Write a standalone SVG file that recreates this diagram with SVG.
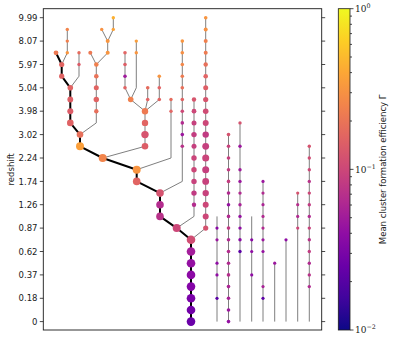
<svg xmlns="http://www.w3.org/2000/svg" width="399" height="342" viewBox="0 0 399 342">
<style>
.frame{fill:none;stroke:#1a1a1a;stroke-width:0.9}
.tick{stroke:#1a1a1a;stroke-width:0.8}
.lbl{font-family:"DejaVu Sans","Liberation Sans",sans-serif;font-size:8.5px;fill:#1a1a1a}
.cbl{font-family:"DejaVu Serif","Liberation Serif",serif;font-size:9px;fill:#1a1a1a}
.sup{font-size:6.3px}
.link{fill:none;stroke:#7f7f7f;stroke-width:1}
.main{fill:none;stroke:#000;stroke-width:2;stroke-linejoin:round}
</style>
<defs>
<linearGradient id="plasma" x1="0" y1="1" x2="0" y2="0">
<stop offset="0" stop-color="#0d0887"/>
<stop offset="0.1" stop-color="#41049d"/>
<stop offset="0.2" stop-color="#6a00a8"/>
<stop offset="0.3" stop-color="#8f0da4"/>
<stop offset="0.4" stop-color="#b12a90"/>
<stop offset="0.5" stop-color="#cc4778"/>
<stop offset="0.6" stop-color="#e16462"/>
<stop offset="0.7" stop-color="#f2844b"/>
<stop offset="0.8" stop-color="#fca636"/>
<stop offset="0.9" stop-color="#fcce25"/>
<stop offset="1" stop-color="#f0f921"/>
</linearGradient>
</defs>
<rect width="399" height="342" fill="#fff"/>

<g id="axes">
<rect class="frame" x="43.3" y="8.7" width="278.4" height="321.3"/>
<g class="tick">
<path d="M39.8,17.7H43.3M39.8,41.1H43.3M39.8,64.5H43.3M39.8,87.8H43.3M39.8,111.2H43.3M39.8,134.6H43.3M39.8,158H43.3M39.8,181.4H43.3M39.8,204.7H43.3M39.8,228.1H43.3M39.8,251.5H43.3M39.8,274.9H43.3M39.8,298.3H43.3M39.8,321.6H43.3"/>
<path d="M321.7,17.7H325.2M321.7,41.1H325.2M321.7,64.5H325.2M321.7,87.8H325.2M321.7,111.2H325.2M321.7,134.6H325.2M321.7,158H325.2M321.7,181.4H325.2M321.7,204.7H325.2M321.7,228.1H325.2M321.7,251.5H325.2M321.7,274.9H325.2M321.7,298.3H325.2M321.7,321.6H325.2"/>
</g>
<g class="lbl" text-anchor="end">
<text x="37.5" y="20.8">9.99</text>
<text x="37.5" y="44.2">8.07</text>
<text x="37.5" y="67.6">5.97</text>
<text x="37.5" y="90.9">5.04</text>
<text x="37.5" y="114.3">3.98</text>
<text x="37.5" y="137.7">3.02</text>
<text x="37.5" y="161.1">2.24</text>
<text x="37.5" y="184.5">1.74</text>
<text x="37.5" y="207.8">1.26</text>
<text x="37.5" y="231.2">0.87</text>
<text x="37.5" y="254.6">0.62</text>
<text x="37.5" y="278">0.37</text>
<text x="37.5" y="301.4">0.18</text>
<text x="37.5" y="324.7">0</text>
</g>
<text class="lbl" text-anchor="middle" transform="translate(13.5,169.3) rotate(-90)">redshift</text>
</g>

<g id="connectors">
<path class="link" d="M67.3,29.4V52.8L61.7,64.5"/>
<path class="link" d="M79,52.8V76.2L70.3,87.8"/>
<path class="link" d="M90.3,52.8L96.3,64.5"/>
<path class="link" d="M101.7,29.4L107.7,41.1"/>
<path class="link" d="M113.3,17.7V29.4L107.7,41.1"/>
<path class="link" d="M107.7,41.1V52.8L96.3,64.5"/>
<path class="link" d="M96.3,64.5V122.9L80,134.6"/>
<path class="link" d="M125,52.8V87.8L130.7,99.5"/>
<path class="link" d="M136.3,41.1V87.8L130.7,99.5"/>
<path class="link" d="M130.7,99.5L145,111.2"/>
<path class="link" d="M147.7,87.8V99.5L145,111.2"/>
<path class="link" d="M159.3,76.2V99.5L145,111.2"/>
<path class="link" d="M145,111.2V146.3L102.7,158"/>
<path class="link" d="M171,99.5V158L136.7,169.7"/>
<path class="link" d="M182.3,41.1V181.4L160,193.1"/>
<path class="link" d="M194,99.5V216.4L176.7,228.1"/>
<path class="link" d="M205.7,17.7V228.1L191,239.8"/>
<path class="link" d="M217,216.4V321.6"/>
<path class="link" d="M228.5,134.6V321.6"/>
<path class="link" d="M240,122.9V321.6"/>
<path class="link" d="M251.7,216.4V321.6"/>
<path class="link" d="M263,181.4V321.6"/>
<path class="link" d="M274.7,263.2V321.6"/>
<path class="link" d="M286,239.8V321.6"/>
<path class="link" d="M297.7,193.1V321.6"/>
<path class="link" d="M309.3,146.3V321.6"/>
<path class="main" d="M56,52.8L61.7,64.5V76.2L70.3,87.8V122.9L80,134.6V146.3L102.7,158L136.7,169.7V181.4L160,193.1V216.4L176.7,228.1L191,239.8V321.6"/>
</g>

<g id="nodes">
<g id="m01"><circle cx="56" cy="52.8" r="2.4" fill="#ed7953"/></g>
<g id="m02"><circle cx="61.7" cy="64.5" r="2.6" fill="#e16462"/></g>
<g id="m03"><circle cx="61.7" cy="76.2" r="2.6" fill="#df6263"/></g>
<g id="m04"><circle cx="70.3" cy="87.8" r="2.8" fill="#e06464"/></g>
<g id="m05"><circle cx="70.3" cy="99.5" r="2.9" fill="#de5f65"/></g>
<g id="m06"><circle cx="70.3" cy="111.2" r="3" fill="#dc5c67"/></g>
<g id="m07"><circle cx="70.3" cy="122.9" r="3.3" fill="#df6264"/></g>
<g id="m08"><circle cx="80" cy="134.6" r="3.3" fill="#e6705b"/></g>
<g id="m09"><circle cx="80" cy="146.3" r="4" fill="#fb9f3a"/></g>
<g id="m10"><circle cx="102.7" cy="158" r="4" fill="#f2844b"/></g>
<g id="m11"><circle cx="136.7" cy="169.7" r="4" fill="#f89441"/></g>
<g id="m12"><circle cx="136.7" cy="181.4" r="3.8" fill="#e16462"/></g>
<g id="m13"><circle cx="160" cy="193.1" r="3.8" fill="#d5536f"/></g>
<g id="m14"><circle cx="160" cy="204.7" r="3.8" fill="#b32c8e"/></g>
<g id="m15"><circle cx="160" cy="216.4" r="3.8" fill="#b83289"/></g>
<g id="m16"><circle cx="176.7" cy="228.1" r="4" fill="#cc4778"/></g>
<g id="m17"><circle cx="191" cy="239.8" r="4.3" fill="#d04d73"/></g>
<g id="m18"><circle cx="191" cy="251.5" r="4.3" fill="#a41e9b"/></g>
<g id="m19"><circle cx="191" cy="263.2" r="4.3" fill="#9410a2"/></g>
<g id="m20"><circle cx="191" cy="274.9" r="4.3" fill="#8c0aa5"/></g>
<g id="m21"><circle cx="191" cy="286.6" r="4.3" fill="#8405a7"/></g>
<g id="m22"><circle cx="191" cy="298.3" r="4.3" fill="#7a02a8"/></g>
<g id="m23"><circle cx="191" cy="310" r="4.3" fill="#7201a8"/></g>
<g id="m24"><circle cx="191" cy="321.6" r="4.3" fill="#6a00a8"/></g>

<g id="b1"><circle cx="67.3" cy="29.4" r="1.7" fill="#f2844b"/></g>
<g id="b2"><circle cx="67.3" cy="41.1" r="1.7" fill="#f07f4e"/></g>
<g id="b3"><circle cx="67.3" cy="52.8" r="1.7" fill="#f89540"/></g>
<g id="c1"><circle cx="79" cy="52.8" r="1.7" fill="#e56b5d"/></g>
<g id="c2"><circle cx="79" cy="64.5" r="1.7" fill="#db5c68"/></g>
<g id="d1"><circle cx="90.3" cy="52.8" r="2" fill="#ed7953"/></g>
<g id="e1"><circle cx="101.7" cy="29.4" r="1.7" fill="#f79143"/></g>
<g id="f1"><circle cx="113.3" cy="17.7" r="1.7" fill="#fdb030"/></g>
<g id="f2"><circle cx="113.3" cy="29.4" r="1.7" fill="#fba238"/></g>
<g id="g1"><circle cx="107.7" cy="41.1" r="2" fill="#f89540"/></g>
<g id="g2"><circle cx="107.7" cy="52.8" r="2" fill="#f89540"/></g>
<g id="h1"><circle cx="96.3" cy="64.5" r="2.3" fill="#f0804e"/></g>
<g id="h2"><circle cx="96.3" cy="76.2" r="2.3" fill="#e97359"/></g>
<g id="h3"><circle cx="96.3" cy="87.8" r="2.5" fill="#e16462"/></g>
<g id="h4"><circle cx="96.3" cy="99.5" r="2.7" fill="#e06363"/></g>
<g id="h5"><circle cx="96.3" cy="111.2" r="2.2" fill="#e76f5b"/></g>
<g id="i1"><circle cx="125" cy="52.8" r="1.8" fill="#e26766"/></g>
<g id="i2"><circle cx="125" cy="64.5" r="1.8" fill="#dd5e66"/></g>
<g id="i3"><circle cx="125" cy="76.2" r="1.8" fill="#a01a9c"/></g>
<g id="i4"><circle cx="125" cy="87.8" r="1.8" fill="#e06464"/></g>
<g id="j1"><circle cx="136.3" cy="41.1" r="1.7" fill="#f99e3c"/></g>
<g id="j2"><circle cx="136.3" cy="52.8" r="1.7" fill="#f89540"/></g>
<g id="k1"><circle cx="130.7" cy="99.5" r="2.8" fill="#f0804e"/></g>
<g id="l1"><circle cx="147.7" cy="87.8" r="1.8" fill="#e56b5d"/></g>
<g id="l2"><circle cx="147.7" cy="99.5" r="1.8" fill="#e36566"/></g>
<g id="q1"><circle cx="159.3" cy="76.2" r="1.8" fill="#f89540"/></g>
<g id="q2"><circle cx="159.3" cy="87.8" r="1.8" fill="#e36566"/></g>
<g id="q3"><circle cx="159.3" cy="99.5" r="1.8" fill="#e16462"/></g>
<g id="o1"><circle cx="145" cy="111.2" r="3.2" fill="#ee7a52"/></g>
<g id="o2"><circle cx="145" cy="122.9" r="3.2" fill="#e16462"/></g>
<g id="o3"><circle cx="145" cy="134.6" r="3.7" fill="#d6546e"/></g>
<g id="o4"><circle cx="145" cy="146.3" r="3.3" fill="#dc5d67"/></g>
<g id="p1"><circle cx="171" cy="99.5" r="1.7" fill="#e56b5d"/></g>
<g id="p2"><circle cx="171" cy="111.2" r="1.7" fill="#e26866"/></g>

<g id="L02"><circle cx="182.3" cy="41.1" r="1.8" fill="#f89540"/></g>
<g id="L03"><circle cx="182.3" cy="52.8" r="1.8" fill="#f68f44"/></g>
<g id="L04"><circle cx="182.3" cy="64.5" r="1.8" fill="#f3874a"/></g>
<g id="L05"><circle cx="182.3" cy="76.2" r="1.8" fill="#ee7b51"/></g>
<g id="L06"><circle cx="182.3" cy="87.8" r="1.8" fill="#e8705a"/></g>
<g id="L07"><circle cx="182.3" cy="99.5" r="1.8" fill="#e06363"/></g>
<g id="L08"><circle cx="182.3" cy="111.2" r="1.8" fill="#cd4977"/></g>
<g id="L09"><circle cx="182.3" cy="122.9" r="1.8" fill="#b22b8f"/></g>
<g id="L10"><circle cx="182.3" cy="134.6" r="1.8" fill="#9c179e"/></g>
<g id="L11"><circle cx="182.3" cy="146.3" r="1.8" fill="#b83289"/></g>

<g id="M07"><circle cx="194" cy="99.5" r="2.2" fill="#d6556d"/></g>
<g id="M08"><circle cx="194" cy="111.2" r="2.4" fill="#cc4778"/></g>
<g id="M09"><circle cx="194" cy="122.9" r="2.5" fill="#c6417d"/></g>
<g id="M10"><circle cx="194" cy="134.6" r="2.7" fill="#c33d80"/></g>
<g id="M11"><circle cx="194" cy="146.3" r="2.5" fill="#c5407e"/></g>
<g id="M12"><circle cx="194" cy="158" r="2.7" fill="#ca457a"/></g>
<g id="M13"><circle cx="194" cy="169.7" r="2.7" fill="#cc4778"/></g>
<g id="M14"><circle cx="194" cy="181.4" r="2.7" fill="#c7427c"/></g>
<g id="M15"><circle cx="194" cy="193.1" r="2.7" fill="#c13b82"/></g>
<g id="M16"><circle cx="194" cy="204.7" r="2.2" fill="#b32c8e"/></g>

<g id="N00"><circle cx="205.7" cy="17.7" r="1.8" fill="#f89540"/></g>
<g id="N01"><circle cx="205.7" cy="29.4" r="2" fill="#f79143"/></g>
<g id="N02"><circle cx="205.7" cy="41.1" r="2" fill="#f0804e"/></g>
<g id="N03"><circle cx="205.7" cy="52.8" r="2" fill="#ee7b51"/></g>
<g id="N04"><circle cx="205.7" cy="64.5" r="2.2" fill="#e8705a"/></g>
<g id="N05"><circle cx="205.7" cy="76.2" r="2.3" fill="#e36566"/></g>
<g id="N06"><circle cx="205.7" cy="87.8" r="2.5" fill="#de5e66"/></g>
<g id="N07"><circle cx="205.7" cy="99.5" r="2.6" fill="#d6556d"/></g>
<g id="N08"><circle cx="205.7" cy="111.2" r="2.8" fill="#cf4c74"/></g>
<g id="N09"><circle cx="205.7" cy="122.9" r="3" fill="#cc4778"/></g>
<g id="N10"><circle cx="205.7" cy="134.6" r="3.2" fill="#c13b82"/></g>
<g id="N11"><circle cx="205.7" cy="146.3" r="3.4" fill="#c5407e"/></g>
<g id="N12"><circle cx="205.7" cy="158" r="3.5" fill="#ca457a"/></g>
<g id="N13"><circle cx="205.7" cy="169.7" r="3.5" fill="#c5407e"/></g>
<g id="N14"><circle cx="205.7" cy="181.4" r="3.4" fill="#c7427c"/></g>
<g id="N15"><circle cx="205.7" cy="193.1" r="3.2" fill="#c7427c"/></g>
<g id="N16"><circle cx="205.7" cy="204.7" r="3" fill="#cc4778"/></g>
<g id="N17"><circle cx="205.7" cy="216.4" r="3" fill="#cc4778"/></g>
<g id="N18"><circle cx="205.7" cy="228.1" r="2.6" fill="#d5536f"/></g>

<g id="P18"><circle cx="217" cy="228.1" r="1.6" fill="#8a09a5"/></g>
<g id="P19"><circle cx="217" cy="239.8" r="1.6" fill="#9c179e"/></g>
<g id="P21"><circle cx="217" cy="263.2" r="1.6" fill="#8f0da4"/></g>
<g id="P22"><circle cx="217" cy="274.9" r="1.6" fill="#8f0da4"/></g>
<g id="P24"><circle cx="217" cy="298.3" r="1.6" fill="#5c01a6"/></g>

<g id="Q10"><circle cx="228.5" cy="134.6" r="1.8" fill="#d5536f"/></g>
<g id="Q11"><circle cx="228.5" cy="146.3" r="1.8" fill="#c7427c"/></g>
<g id="Q12"><circle cx="228.5" cy="158" r="1.8" fill="#c5407e"/></g>
<g id="Q13"><circle cx="228.5" cy="169.7" r="1.8" fill="#c13b82"/></g>
<g id="Q14"><circle cx="228.5" cy="181.4" r="1.8" fill="#c33d80"/></g>
<g id="Q15"><circle cx="228.5" cy="193.1" r="1.8" fill="#b12a90"/></g>
<g id="Q16"><circle cx="228.5" cy="204.7" r="1.8" fill="#9512a1"/></g>
<g id="Q17"><circle cx="228.5" cy="216.4" r="1.8" fill="#b12a90"/></g>
<g id="Q18"><circle cx="228.5" cy="228.1" r="1.8" fill="#c03a83"/></g>
<g id="Q19"><circle cx="228.5" cy="239.8" r="1.8" fill="#b12a90"/></g>
<g id="Q20"><circle cx="228.5" cy="251.5" r="1.8" fill="#b32c8e"/></g>
<g id="Q21"><circle cx="228.5" cy="263.2" r="1.8" fill="#b12a90"/></g>
<g id="Q22"><circle cx="228.5" cy="274.9" r="1.8" fill="#b52f8c"/></g>
<g id="Q23"><circle cx="228.5" cy="286.6" r="1.8" fill="#ab2494"/></g>
<g id="Q24"><circle cx="228.5" cy="298.3" r="1.8" fill="#a82296"/></g>
<g id="Q25"><circle cx="228.5" cy="310" r="1.8" fill="#9c179e"/></g>
<g id="Q26"><circle cx="228.5" cy="321.6" r="1.8" fill="#9410a2"/></g>

<g id="R09"><circle cx="240" cy="122.9" r="1.7" fill="#d5536f"/></g>
<g id="R11"><circle cx="240" cy="146.3" r="1.7" fill="#9c179e"/></g>
<g id="R13"><circle cx="240" cy="169.7" r="1.7" fill="#a01a9c"/></g>
<g id="R14"><circle cx="240" cy="181.4" r="1.7" fill="#9c179e"/></g>
<g id="R15"><circle cx="240" cy="193.1" r="1.7" fill="#b12a90"/></g>
<g id="R16"><circle cx="240" cy="204.7" r="1.7" fill="#a82296"/></g>
<g id="R17"><circle cx="240" cy="216.4" r="1.7" fill="#9511a1"/></g>
<g id="R18"><circle cx="240" cy="228.1" r="1.7" fill="#8f0da4"/></g>
<g id="R19"><circle cx="240" cy="239.8" r="1.7" fill="#8a09a5"/></g>
<g id="R20"><circle cx="240" cy="251.5" r="1.7" fill="#5c01a6"/></g>

<g id="S19"><circle cx="251.7" cy="239.8" r="1.6" fill="#8a09a5"/></g>
<g id="S20"><circle cx="251.7" cy="251.5" r="1.6" fill="#8f0da4"/></g>
<g id="S22"><circle cx="251.7" cy="274.9" r="1.6" fill="#8f0da4"/></g>

<g id="T14"><circle cx="263" cy="181.4" r="1.6" fill="#9c179e"/></g>
<g id="T15"><circle cx="263" cy="193.1" r="1.6" fill="#b12a90"/></g>
<g id="T16"><circle cx="263" cy="204.7" r="1.6" fill="#ab2494"/></g>
<g id="T17"><circle cx="263" cy="216.4" r="1.6" fill="#b12a90"/></g>
<g id="T18"><circle cx="263" cy="228.1" r="1.6" fill="#b12a90"/></g>
<g id="T19"><circle cx="263" cy="239.8" r="1.6" fill="#9c179e"/></g>
<g id="T20"><circle cx="263" cy="251.5" r="1.6" fill="#9511a1"/></g>
<g id="T23"><circle cx="263" cy="286.6" r="1.6" fill="#a82296"/></g>
<g id="T24"><circle cx="263" cy="298.3" r="1.6" fill="#5c01a6"/></g>

<g id="U21"><circle cx="274.7" cy="263.2" r="1.6" fill="#9c179e"/></g>
<g id="V19"><circle cx="286" cy="239.8" r="1.6" fill="#8f0da4"/></g>

<g id="W15"><circle cx="297.7" cy="193.1" r="1.6" fill="#d5536f"/></g>
<g id="W16"><circle cx="297.7" cy="204.7" r="1.6" fill="#b52f8c"/></g>
<g id="W17"><circle cx="297.7" cy="216.4" r="1.6" fill="#b12a90"/></g>
<g id="W18"><circle cx="297.7" cy="228.1" r="1.6" fill="#cc4778"/></g>

<g id="X11"><circle cx="309.3" cy="146.3" r="1.7" fill="#d5536f"/></g>
<g id="X12"><circle cx="309.3" cy="158" r="1.7" fill="#cf4c74"/></g>
<g id="X13"><circle cx="309.3" cy="169.7" r="1.7" fill="#cc4778"/></g>
<g id="X14"><circle cx="309.3" cy="181.4" r="1.7" fill="#b83289"/></g>
<g id="X15"><circle cx="309.3" cy="193.1" r="1.7" fill="#cc4778"/></g>
<g id="X16"><circle cx="309.3" cy="204.7" r="1.7" fill="#c13b82"/></g>
<g id="X17"><circle cx="309.3" cy="216.4" r="1.7" fill="#b12a90"/></g>
<g id="X18"><circle cx="309.3" cy="228.1" r="1.7" fill="#c7427c"/></g>
<g id="X19"><circle cx="309.3" cy="239.8" r="1.7" fill="#b83289"/></g>
<g id="X20"><circle cx="309.3" cy="251.5" r="1.7" fill="#c13b82"/></g>
<g id="X21"><circle cx="309.3" cy="263.2" r="1.7" fill="#b12a90"/></g>
<g id="X22"><circle cx="309.3" cy="274.9" r="1.7" fill="#b83289"/></g>
<g id="X23"><circle cx="309.3" cy="286.6" r="1.7" fill="#b12a90"/></g>
</g>

<g id="colorbar">
<rect x="338.3" y="8.7" width="11.7" height="321.3" fill="url(#plasma)" stroke="#1a1a1a" stroke-width="0.8"/>
<path class="tick" d="M350,8.7H353.5M350,169.35H353.5M350,330H353.5"/>
<path class="tick" stroke-width="0.6" d="M350,121H352M350,92.7H352M350,72.6H352M350,57H352M350,44.4H352M350,33.6H352M350,24.3H352M350,16.1H352M350,281.6H352M350,253.4H352M350,233.3H352M350,217.7H352M350,205H352M350,194.2H352M350,184.9H352M350,176.7H352"/>
<text class="cbl" x="355" y="12.2">10<tspan class="sup" dy="-3.8">0</tspan></text>
<text class="cbl" x="355" y="172.6">10<tspan class="sup" dy="-3.8">−1</tspan></text>
<text class="cbl" x="355" y="333.2">10<tspan class="sup" dy="-3.8">−2</tspan></text>
<text class="lbl" text-anchor="middle" transform="translate(386.3,169.3) rotate(-90)">Mean cluster formation efficiency Γ</text>
</g>
</svg>
